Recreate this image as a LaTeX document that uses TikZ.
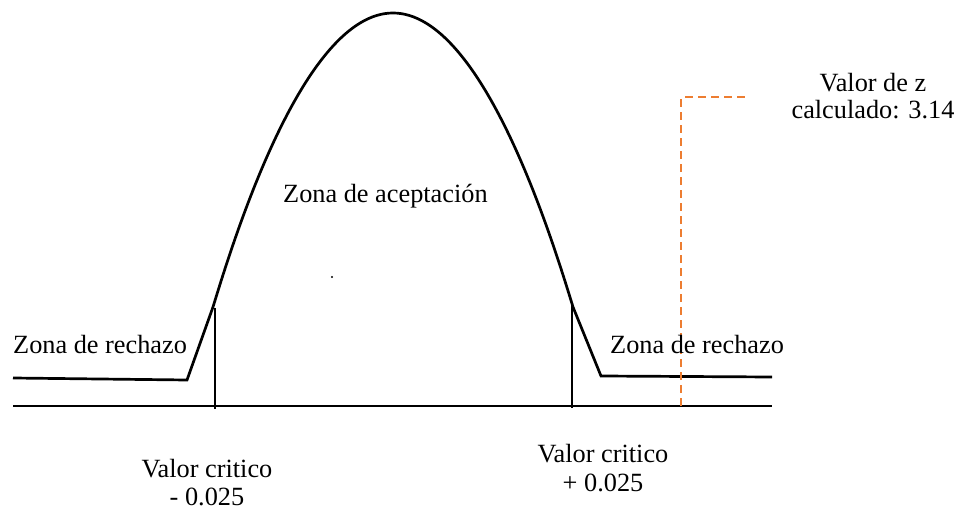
\documentclass[tikz,border=0pt]{standalone}
\usepackage{fontspec}
\setmainfont{Liberation Serif}
\definecolor{dashorange}{RGB}{237,125,49}
\begin{document}
\begin{tikzpicture}[x=1pt,y=-1pt,
  curveline/.style={line width=2.7pt, line join=miter},
  lbl/.style={inner sep=0pt, font=\fontsize{26.3}{30}\selectfont},
  zdash/.style={draw=dashorange, line width=2.4pt, dash pattern=on 8pt off 5pt}]
\useasboundingbox (0,0) rectangle (958,510);
% bell curve with tails
\draw[curveline] (13,378) -- (187,380) -- (213,307) parabola bend (393,13) (573,307) -- (601,376) -- (772,377);
% axis
\draw[curveline] (13,406) -- (772,406);
% critical value markers
\draw[curveline] (215,308) -- (215,409);
\draw[curveline] (572,305) -- (572,408);
% computed z value
\draw[zdash] (681,406) -- (681,97);
\draw[zdash] (685,97) -- (745,97);
% small dot
\fill (332,277) circle (1.2pt);
% labels
\node[lbl, anchor=base west] (rl) at (13,353) {Zona de rechazo};
\node[lbl, anchor=base west] (rr) at (610,353) {Zona de rechazo};
\node[lbl, anchor=base west] (za) at (283,203) {Zona de aceptación};
\node[lbl, anchor=base] (z1) at (873,92) {Valor de z};
\node[lbl, anchor=base] (z2) at (873,119) {calculado: 3.14};
\node[lbl, anchor=base] (cl1) at (207,477) {Valor critico};
\node[lbl, anchor=base] (cl2) at (207,505) {- 0.025};
\node[lbl, anchor=base] (cr1) at (603,462) {Valor critico};
\node[lbl, anchor=base] (cr2) at (603,491) {+ 0.025};
\end{tikzpicture}
\end{document}
